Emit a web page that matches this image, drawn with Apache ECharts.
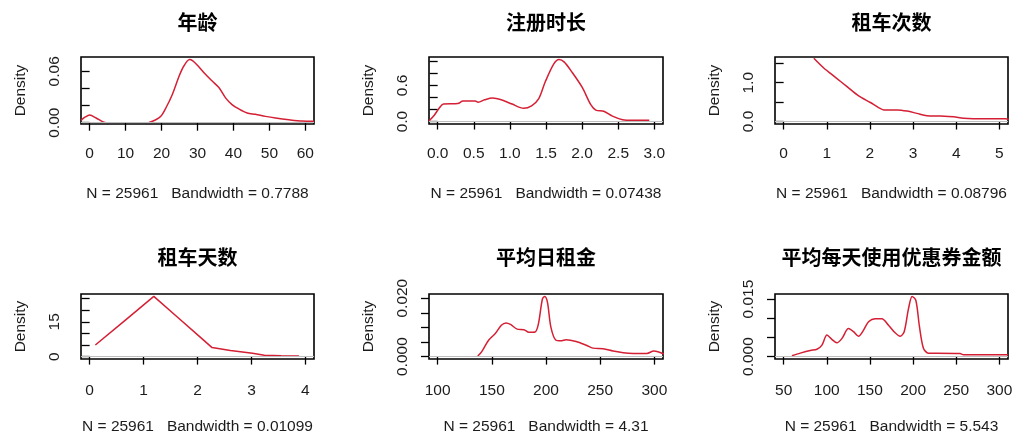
<!DOCTYPE html>
<html>
<head>
<meta charset="utf-8">
<script src="https://cdn.jsdelivr.net/npm/echarts@6/dist/echarts.min.js"></script>
<style>
  html, body { margin: 0; padding: 0; background: #ffffff; }
  #chart { width: 1026px; height: 436px; }
</style>
</head>
<body>
<div id="chart"></div>
<script>
// ---- Kernel density estimates (x, density) for each variable ----
// 年龄 (the curve drops out of view between ~4 and ~16)
const ageX = [-2.4, -1.2, 0, 1.8, 3.6, 4.5, 10, 16.5, 18.4, 19.8, 21.2, 23.0, 24.9, 26.2, 27.8, 28.6, 29.9, 31.8, 34.1, 36.0, 37.8, 39.6, 41.5, 43.8, 46.1, 48.9, 51.7, 55.4, 59.1, 62.4];
const ageY = [0.0027, 0.0067, 0.0090, 0.0055, 0.0012, 0.0, null, 0.0004, 0.0035, 0.0075, 0.0172, 0.033, 0.0545, 0.0662, 0.0737, 0.0725, 0.0674, 0.0584, 0.0486, 0.0408, 0.029, 0.0212, 0.0161, 0.0114, 0.0098, 0.0074, 0.0055, 0.0035, 0.0020, 0.0018];

// 注册时长
const regX = [-0.12, -0.05, 0.02, 0.08, 0.28, 0.35, 0.52, 0.56, 0.65, 0.76, 0.88, 1.03, 1.19, 1.30, 1.40, 1.49, 1.61, 1.68, 1.75, 1.86, 2.00, 2.12, 2.19, 2.30, 2.42, 2.56, 2.70, 2.93];
const regY = [0.01, 0.10, 0.22, 0.29, 0.30, 0.34, 0.34, 0.32, 0.36, 0.39, 0.36, 0.29, 0.22, 0.26, 0.38, 0.66, 0.96, 1.03, 0.99, 0.82, 0.57, 0.28, 0.19, 0.17, 0.09, 0.03, 0.02, 0.02];

// 租车次数
const cntX = [0.70, 0.93, 1.20, 1.47, 1.74, 2.01, 2.20, 2.32, 2.63, 2.86, 3.09, 3.32, 3.63, 3.94, 4.17, 4.64, 5.14, 5.22];
const cntY = [1.63, 1.38, 1.14, 0.90, 0.66, 0.49, 0.36, 0.30, 0.30, 0.27, 0.21, 0.15, 0.14, 0.12, 0.085, 0.07, 0.07, 0.05];

// 租车天数
const dayX = [0.106, 0.68, 1.19, 1.62, 2.05, 2.27, 2.61, 3.02, 3.24, 3.55, 3.88];
const dayY = [5.0, 16.1, 26.0, 17.2, 8.4, 3.9, 2.6, 1.4, 0.6, 0.4, 0.3];

// 平均日租金
const rentX = [137, 140.7, 147, 153.2, 158.8, 163.1, 167.2, 173.4, 179.6, 184.3, 189.9, 193, 196.7, 198.9, 201.4, 204.5, 209.2, 213.8, 218.5, 227.8, 237.2, 243.4, 252.7, 262, 271.4, 280.7, 293.1, 299.4, 304, 308.7];
const rentY = [0.0002, 0.0017, 0.0056, 0.0079, 0.0107, 0.0115, 0.0110, 0.0094, 0.0092, 0.0083, 0.0084, 0.0112, 0.0197, 0.0206, 0.0185, 0.0101, 0.0056, 0.0054, 0.0058, 0.0052, 0.0039, 0.0029, 0.0027, 0.0019, 0.0013, 0.0011, 0.0011, 0.0019, 0.0016, 0.0009];

// 平均每天使用优惠券金额
const cpnX = [59.6, 69.3, 80.9, 88.6, 94.4, 100.2, 105.9, 111.7, 117.5, 125.2, 131, 136.8, 142.6, 148.4, 156.1, 163.8, 171.5, 179.2, 185, 189.7, 194.7, 198.9, 203.2, 207.4, 212, 217.8, 227.5, 254.5, 258.3, 281.5, 310];
const cpnY = [0.0002, 0.0009, 0.0016, 0.0019, 0.0030, 0.0056, 0.0045, 0.0036, 0.0047, 0.0073, 0.0065, 0.0053, 0.0069, 0.0091, 0.0099, 0.0099, 0.0082, 0.0062, 0.0053, 0.0065, 0.0125, 0.0157, 0.0147, 0.0078, 0.0022, 0.0009, 0.0009, 0.0008, 0.0005, 0.0005, 0.0005];

// ---- Titles, subtitle values, ticks and labels ----
const titles = ['年龄', '注册时长', '租车次数', '租车天数', '平均日租金', '平均每天使用优惠券金额'];
const sampleSize = 25961;
const bandwidths = ['0.7788', '0.07438', '0.08796', '0.01099', '4.31', '5.543'];

const xTicks = [
  [0, 10, 20, 30, 40, 50, 60],
  [0, 0.5, 1, 1.5, 2, 2.5, 3],
  [0, 1, 2, 3, 4, 5],
  [0, 1, 2, 3, 4],
  [100, 150, 200, 250, 300],
  [50, 100, 150, 200, 250, 300]
];
const xDecimals = [0, 1, 0, 0, 0, 0];

const yTicks = [
  [0, 0.02, 0.04, 0.06],
  [0, 0.2, 0.4, 0.6, 0.8, 1.0],
  [0, 0.5, 1.0, 1.5],
  [0, 5, 10, 15, 20, 25],
  [0, 0.005, 0.010, 0.015, 0.020],
  [0, 0.005, 0.010, 0.015]
];
const yLabels = [
  [0, 0.06],
  [0, 0.6],
  [0, 1.0],
  [0, 15],
  [0, 0.020],
  [0, 0.015]
];
const yDecimals = [2, 1, 1, 0, 3, 3];

// Axis ranges (data range padded by ~4% on each side)
const xRanges = [[-2.4, 62.4], [-0.12, 3.12], [-0.2, 5.2], [-0.16, 4.16], [92, 308], [40, 310]];
const yRanges = [[-0.0015, 0.0767], [-0.041, 1.071], [-0.064, 1.664], [-1.04, 27.04], [-0.00082, 0.02142], [-0.00063, 0.01633]];

const series = [[ageX, ageY], [regX, regY], [cntX, cntY], [dayX, dayY], [rentX, rentY], [cpnX, cpnY]];

// ---- Layout and styling ----
const boxes = [
  { left: 81,  top: 57,  width: 233, height: 67 },
  { left: 429, top: 57,  width: 234, height: 67 },
  { left: 775, top: 57,  width: 233, height: 67 },
  { left: 81,  top: 294, width: 233, height: 66 },
  { left: 429, top: 294, width: 234, height: 66 },
  { left: 775, top: 294, width: 233, height: 66 }
];
const titleCenterY = [22, 22, 22, 257, 257, 257];
const labelMargin = [22, 22, 22, 24, 24, 24];
const subGap = [62, 62, 62, 60, 60, 60];

const FONT = '"Liberation Sans", Arial, "DejaVu Sans", sans-serif';
const CJK = '"Noto Sans CJK SC", "Noto Sans CJK JP", sans-serif';
const TEXT = '#1c1c1c';
const CURVE = '#d41f34';
const FS = 15.5;

const grids = [], xAxes = [], yAxes = [], lines = [], graphics = [];

boxes.forEach((b, i) => {
  grids.push({
    left: b.left, top: b.top, width: b.width, height: b.height,
    show: true, borderColor: '#000', borderWidth: 1.6, backgroundColor: 'transparent'
  });

  xAxes.push({
    gridIndex: i, type: 'value', min: xRanges[i][0], max: xRanges[i][1],
    name: 'N = ' + sampleSize + '   Bandwidth = ' + bandwidths[i],
    nameLocation: 'middle', nameGap: subGap[i],
    nameTextStyle: { fontFamily: FONT, fontSize: FS, color: TEXT },
    axisLine: { show: false },
    axisTick: { show: true, inside: false, length: 8, customValues: xTicks[i], lineStyle: { color: '#000', width: 1.3 } },
    axisLabel: {
      show: true, margin: labelMargin[i], customValues: xTicks[i],
      formatter: v => Number(v).toFixed(xDecimals[i]),
      fontFamily: FONT, fontSize: FS, color: TEXT
    },
    splitLine: { show: false }
  });

  yAxes.push({
    gridIndex: i, type: 'value', min: yRanges[i][0], max: yRanges[i][1],
    name: 'Density', nameLocation: 'middle', nameGap: 52, nameRotate: 90,
    nameTextStyle: { fontFamily: FONT, fontSize: FS, color: TEXT },
    axisLine: { show: false },
    axisTick: { show: true, inside: false, length: 8, customValues: yTicks[i], lineStyle: { color: '#000', width: 1.3 } },
    axisLabel: {
      show: true, rotate: 90, margin: 18, customValues: yLabels[i],
      formatter: v => Number(v).toFixed(yDecimals[i]),
      fontFamily: FONT, fontSize: FS, color: TEXT
    },
    splitLine: { show: false }
  });

  const [xs, ys] = series[i];
  lines.push({
    type: 'line', xAxisIndex: i, yAxisIndex: i,
    data: xs.map((x, k) => [x, ys[k] === null ? '-' : ys[k]]),
    showSymbol: false, symbol: 'none',
    smooth: i === 3 ? false : 0.3,
    connectNulls: false, clip: true,
    lineStyle: { color: CURVE, width: 1.5 },
    markLine: {
      silent: true, symbol: ['none', 'none'], animation: false,
      label: { show: false },
      lineStyle: { color: '#bebebe', width: 1, type: 'solid' },
      data: [{ yAxis: 0 }]
    }
  });

  graphics.push({
    type: 'text',
    x: b.left + b.width / 2, y: titleCenterY[i],
    style: {
      text: titles[i], align: 'center', verticalAlign: 'middle',
      fontFamily: CJK, fontWeight: 'bold', fontSize: 20, fill: '#000'
    }
  });
});

const chart = echarts.init(document.getElementById('chart'), null, { renderer: 'canvas' });
chart.setOption({
  animation: false,
  backgroundColor: '#ffffff',
  grid: grids,
  xAxis: xAxes,
  yAxis: yAxes,
  series: lines,
  graphic: graphics
});
</script>
</body>
</html>
